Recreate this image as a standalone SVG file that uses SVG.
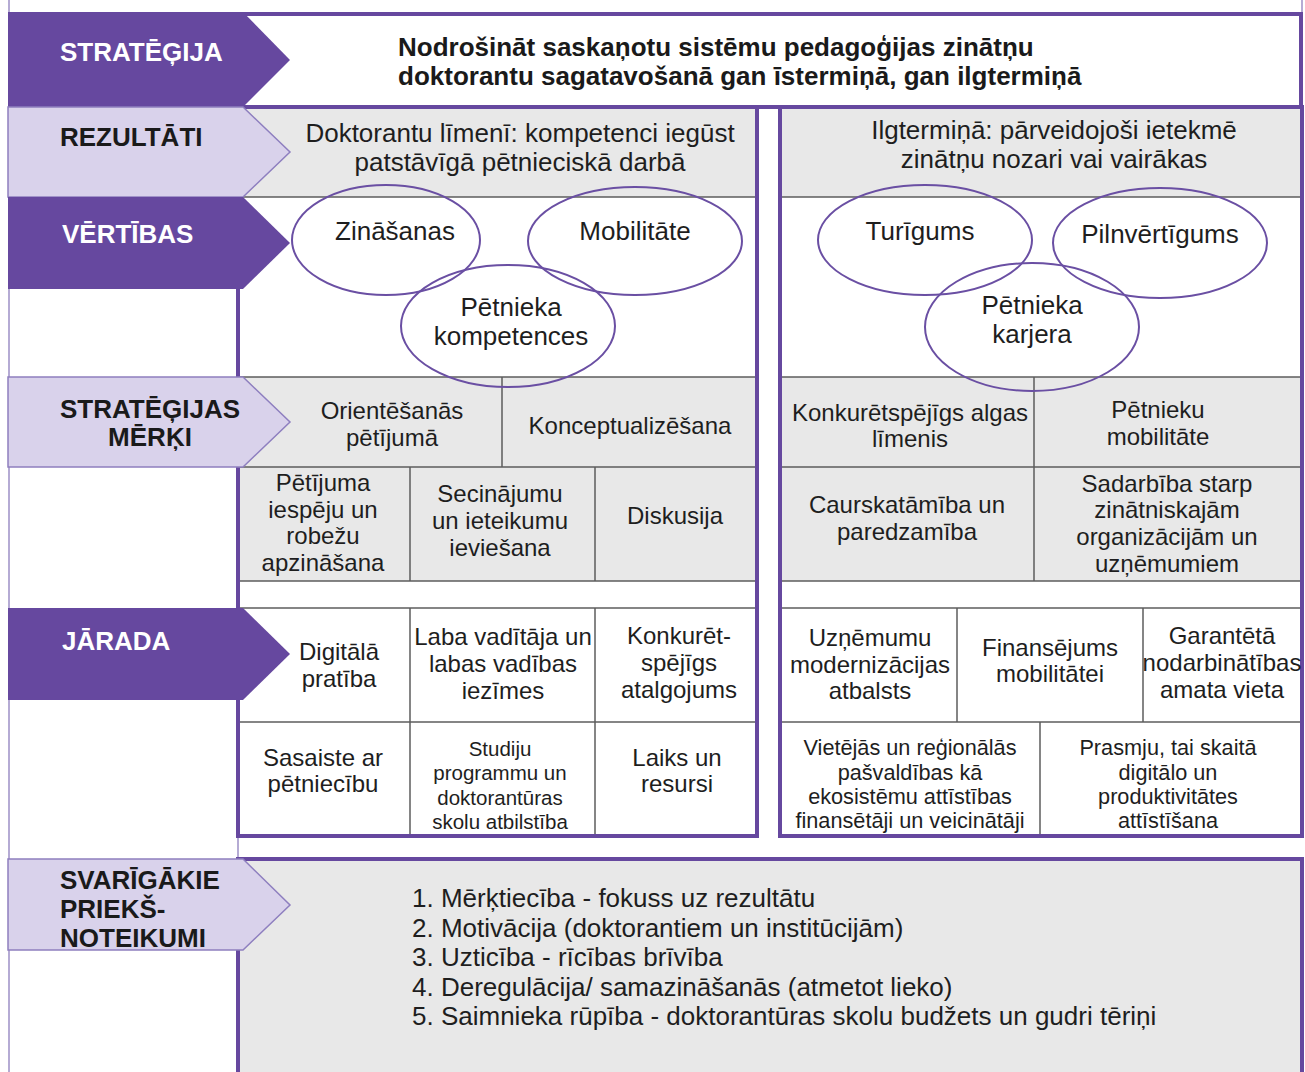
<svg xmlns="http://www.w3.org/2000/svg" width="1305" height="1072" viewBox="0 0 1305 1072">
  <style>
    .dk { fill: #66489f; }
    .lv { fill: #d9d2eb; stroke: #8e7fbf; stroke-width: 1.5; }
    .pnl { fill: none; stroke: #66489f; stroke-width: 4; }
    .gr { fill: #e8e8e8; }
    .ln { stroke: #5c5c5c; stroke-width: 1.5; fill: none; }
    .frame { stroke: #9c8fc6; stroke-width: 1.5; fill: none; }
    .ov { fill: none; stroke: #6a4fa3; stroke-width: 2; }
    text { font-family: "Liberation Sans", Arial, sans-serif; fill: #1e1e1e; }
    .bw { font-weight: bold; font-size: 26px; fill: #ffffff; }
    .bk { font-weight: bold; font-size: 26px; fill: #1a1a1a; }
    .t { font-weight: bold; font-size: 26px; fill: #1a1a1a; }
    .r { font-size: 26px; text-anchor: middle; }
    .e { font-size: 26px; text-anchor: middle; }
    .c { font-size: 24px; text-anchor: middle; }
    .s { font-size: 20.5px; text-anchor: middle; }
    .sr { font-size: 21.7px; text-anchor: middle; }
    .l { font-size: 26px; }
  </style>

  <rect x="0" y="0" width="1305" height="1072" fill="#ffffff"/>

  <!-- outer frame lines of the label column and the right edge -->
  <g id="frame">
    <line class="frame" x1="9" y1="0" x2="9" y2="1072"/>
    <line class="frame" x1="1302" y1="0" x2="1302" y2="14"/>
    <line class="frame" x1="238" y1="836" x2="238" y2="860"/>
  </g>

  <!-- strategy statement box -->
  <g id="strategy-box">
    <rect x="241" y="14" width="1060" height="93" fill="#ffffff" stroke="#66489f" stroke-width="4"/>
    <text class="t" x="398" y="56">Nodrošināt saskaņotu sistēmu pedagoģijas zinātņu</text>
    <text class="t" x="398" y="85">doktorantu sagatavošanā gan īstermiņā, gan ilgtermiņā</text>
  </g>

  <!-- left panel: doctoral level -->
  <g id="panel-left">
    <rect class="gr" x="238" y="107" width="519" height="90"/>
    <rect class="gr" x="238" y="377" width="519" height="204"/>
    <line class="ln" x1="238" y1="197" x2="757" y2="197"/>
    <line class="ln" x1="238" y1="377" x2="757" y2="377"/>
    <line class="ln" x1="238" y1="467" x2="757" y2="467"/>
    <line class="ln" x1="238" y1="581" x2="757" y2="581"/>
    <line class="ln" x1="238" y1="608" x2="757" y2="608"/>
    <line class="ln" x1="238" y1="722" x2="757" y2="722"/>
    <line class="ln" x1="502" y1="377" x2="502" y2="467"/>
    <line class="ln" x1="410" y1="467" x2="410" y2="581"/>
    <line class="ln" x1="595" y1="467" x2="595" y2="581"/>
    <line class="ln" x1="410" y1="608" x2="410" y2="836"/>
    <line class="ln" x1="595" y1="608" x2="595" y2="836"/>
    <rect class="pnl" x="238" y="107" width="519" height="729"/>
  </g>

  <!-- right panel: long-term level -->
  <g id="panel-right">
    <rect class="gr" x="780" y="107" width="522" height="90"/>
    <rect class="gr" x="780" y="377" width="522" height="204"/>
    <line class="ln" x1="780" y1="197" x2="1302" y2="197"/>
    <line class="ln" x1="780" y1="377" x2="1302" y2="377"/>
    <line class="ln" x1="780" y1="467" x2="1302" y2="467"/>
    <line class="ln" x1="780" y1="581" x2="1302" y2="581"/>
    <line class="ln" x1="780" y1="608" x2="1302" y2="608"/>
    <line class="ln" x1="780" y1="722" x2="1302" y2="722"/>
    <line class="ln" x1="1034" y1="377" x2="1034" y2="581"/>
    <line class="ln" x1="957" y1="608" x2="957" y2="722"/>
    <line class="ln" x1="1143" y1="608" x2="1143" y2="722"/>
    <line class="ln" x1="1040" y1="722" x2="1040" y2="836"/>
    <rect class="pnl" x="780" y="107" width="522" height="729"/>
  </g>

  <!-- prerequisites panel -->
  <g id="panel-bottom">
    <rect x="238" y="859" width="1064" height="230" fill="#e8e8e8" stroke="#66489f" stroke-width="4"/>
  </g>

  <!-- value ellipses -->
  <g id="values-left">
    <ellipse class="ov" cx="386" cy="240" rx="94" ry="55"/>
    <ellipse class="ov" cx="635" cy="241" rx="107" ry="54"/>
    <ellipse class="ov" cx="508" cy="326" rx="107" ry="61"/>
  </g>
  <g id="values-right">
    <ellipse class="ov" cx="925" cy="240" rx="107" ry="55"/>
    <ellipse class="ov" cx="1160" cy="243" rx="107" ry="55"/>
    <ellipse class="ov" cx="1032" cy="327" rx="107" ry="64"/>
  </g>

  <!-- row label arrows -->
  <g id="label-strategija">
    <path class="dk" d="M8,12 H243 L290,60 L243,107 H8 Z"/>
    <text class="bw" x="60" y="61">STRATĒĢIJA</text>
  </g>
  <g id="label-rezultati">
    <path class="lv" d="M8,107 H243 L290,152 L243,197 H8 Z"/>
    <text class="bk" x="60" y="146">REZULTĀTI</text>
  </g>
  <g id="label-vertibas">
    <path class="dk" d="M8,197 H243 L290,243 L243,289 H8 Z"/>
    <text class="bw" x="62" y="243">VĒRTĪBAS</text>
  </g>
  <g id="label-merki">
    <path class="lv" d="M8,377 H243 L290,422 L243,467 H8 Z"/>
    <text class="bk" x="150" y="418" text-anchor="middle">STRATĒĢIJAS</text>
    <text class="bk" x="150" y="446" text-anchor="middle">MĒRĶI</text>
  </g>
  <g id="label-jarada">
    <path class="dk" d="M8,608 H243 L290,654 L243,700 H8 Z"/>
    <text class="bw" x="62" y="650">JĀRADA</text>
  </g>
  <g id="label-priekssnoteikumi">
    <path class="lv" d="M8,859 H243 L290,905 L243,950 H8 Z"/>
    <text class="bk" x="60" y="889">SVARĪGĀKIE</text>
    <text class="bk" x="60" y="918">PRIEKŠ-</text>
    <text class="bk" x="60" y="947">NOTEIKUMI</text>
  </g>

  <!-- results -->
  <g id="result-left">
    <text class="r" x="520" y="142">Doktorantu līmenī: kompetenci iegūst</text>
    <text class="r" x="520" y="171">patstāvīgā pētnieciskā darbā</text>
  </g>
  <g id="result-right">
    <text class="r" x="1054" y="139">Ilgtermiņā: pārveidojoši ietekmē</text>
    <text class="r" x="1054" y="168">zinātņu nozari vai vairākas</text>
  </g>

  <!-- value labels -->
  <g id="value-texts">
    <text class="e" x="395" y="240">Zināšanas</text>
    <text class="e" x="635" y="240">Mobilitāte</text>
    <text class="e" x="511" y="316">Pētnieka</text>
    <text class="e" x="511" y="345">kompetences</text>
    <text class="e" x="920" y="240">Turīgums</text>
    <text class="e" x="1160" y="243">Pilnvērtīgums</text>
    <text class="e" x="1032" y="314">Pētnieka</text>
    <text class="e" x="1032" y="343">karjera</text>
  </g>

  <!-- strategic goals -->
  <g id="goals-left">
    <text class="c" x="392" y="419">Orientēšanās</text>
    <text class="c" x="392" y="446">pētījumā</text>
    <text class="c" x="630" y="434">Konceptualizēšana</text>
    <text class="c" x="323" y="491">Pētījuma</text>
    <text class="c" x="323" y="518">iespēju un</text>
    <text class="c" x="323" y="544">robežu</text>
    <text class="c" x="323" y="571">apzināšana</text>
    <text class="c" x="500" y="502">Secinājumu</text>
    <text class="c" x="500" y="529">un ieteikumu</text>
    <text class="c" x="500" y="556">ieviešana</text>
    <text class="c" x="675" y="524">Diskusija</text>
  </g>
  <g id="goals-right">
    <text class="c" x="910" y="421">Konkurētspējīgs algas</text>
    <text class="c" x="910" y="447">līmenis</text>
    <text class="c" x="1158" y="418">Pētnieku</text>
    <text class="c" x="1158" y="445">mobilitāte</text>
    <text class="c" x="907" y="513">Caurskatāmība un</text>
    <text class="c" x="907" y="540">paredzamība</text>
    <text class="c" x="1167" y="492">Sadarbība starp</text>
    <text class="c" x="1167" y="518">zinātniskajām</text>
    <text class="c" x="1167" y="545">organizācijām un</text>
    <text class="c" x="1167" y="572">uzņēmumiem</text>
  </g>

  <!-- necessities -->
  <g id="needs-left">
    <text class="c" x="339" y="660">Digitālā</text>
    <text class="c" x="339" y="687">pratība</text>
    <text class="c" x="503" y="645">Laba vadītāja un</text>
    <text class="c" x="503" y="672">labas vadības</text>
    <text class="c" x="503" y="699">iezīmes</text>
    <text class="c" x="679" y="644">Konkurēt-</text>
    <text class="c" x="679" y="671">spējīgs</text>
    <text class="c" x="679" y="698">atalgojums</text>
    <text class="c" x="323" y="766">Sasaiste ar</text>
    <text class="c" x="323" y="792">pētniecību</text>
    <text class="s" x="500" y="756">Studiju</text>
    <text class="s" x="500" y="780">programmu un</text>
    <text class="s" x="500" y="805">doktorantūras</text>
    <text class="s" x="500" y="829">skolu atbilstība</text>
    <text class="c" x="677" y="766">Laiks un</text>
    <text class="c" x="677" y="792">resursi</text>
  </g>
  <g id="needs-right">
    <text class="c" x="870" y="646">Uzņēmumu</text>
    <text class="c" x="870" y="673">modernizācijas</text>
    <text class="c" x="870" y="699">atbalsts</text>
    <text class="c" x="1050" y="656">Finansējums</text>
    <text class="c" x="1050" y="682">mobilitātei</text>
    <text class="c" x="1222" y="644">Garantētā</text>
    <text class="c" x="1222" y="671">nodarbinātības</text>
    <text class="c" x="1222" y="698">amata vieta</text>
    <text class="sr" x="910" y="755">Vietējās un reģionālās</text>
    <text class="sr" x="910" y="780">pašvaldības kā</text>
    <text class="sr" x="910" y="804">ekosistēmu attīstības</text>
    <text class="sr" x="910" y="828">finansētāji un veicinātāji</text>
    <text class="sr" x="1168" y="755">Prasmju, tai skaitā</text>
    <text class="sr" x="1168" y="780">digitālo un</text>
    <text class="sr" x="1168" y="804">produktivitātes</text>
    <text class="sr" x="1168" y="828">attīstīšana</text>
  </g>

  <!-- key prerequisites list -->
  <g id="prerequisites">
    <text class="l" x="412" y="907">1. Mērķtiecība - fokuss uz rezultātu</text>
    <text class="l" x="412" y="937">2. Motivācija (doktorantiem un institūcijām)</text>
    <text class="l" x="412" y="966">3. Uzticība - rīcības brīvība</text>
    <text class="l" x="412" y="996">4. Deregulācija/ samazināšanās (atmetot lieko)</text>
    <text class="l" x="412" y="1025">5. Saimnieka rūpība - doktorantūras skolu budžets un gudri tēriņi</text>
  </g>

  <!-- no connectors: the layout is a grid of labelled cells -->
  <g id="connectors"/>
</svg>
